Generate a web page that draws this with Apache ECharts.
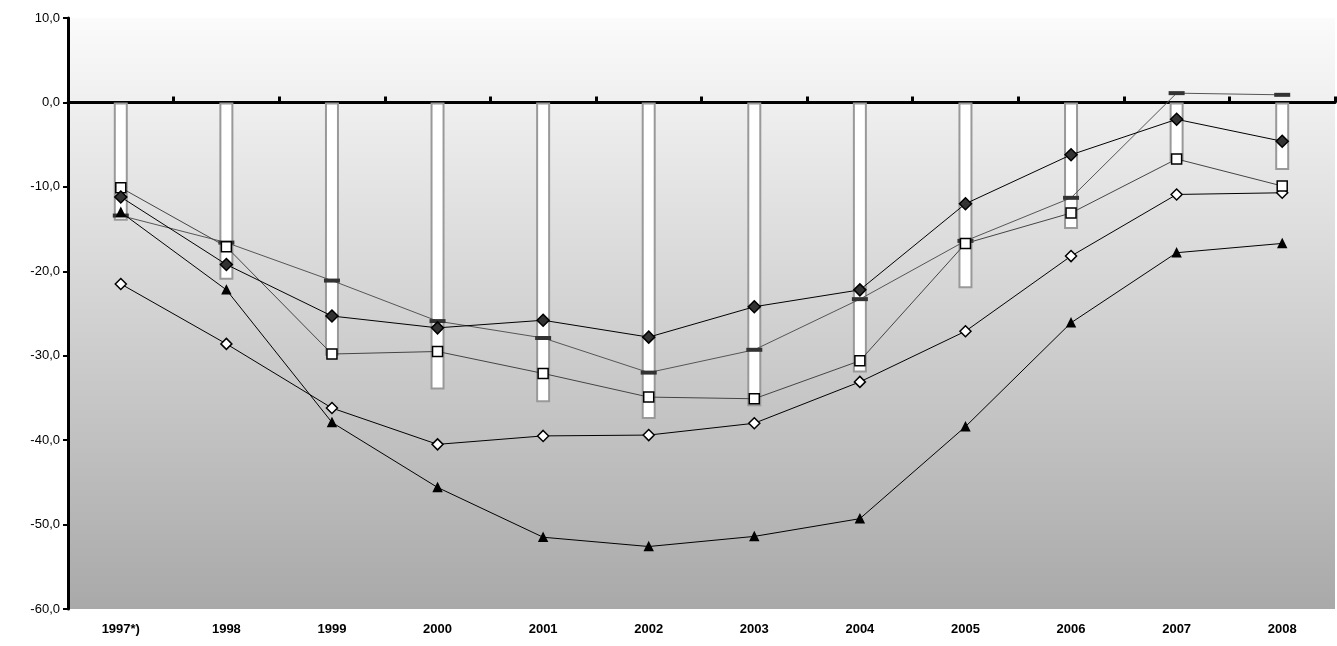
<!DOCTYPE html>
<html style="height:100%">
<head><meta charset="utf-8"></head>
<body style="height:100%;margin:0;background:#fff">
<div id="container" style="width:1337px;height:646px"></div>
<script src="https://cdn.jsdelivr.net/npm/echarts@6/dist/echarts.min.js"></script>
<script>
// data
var years = ['1997*)', '1998', '1999', '2000', '2001', '2002', '2003', '2004', '2005', '2006', '2007', '2008'];
var bars = [-14, -21, -30, -34, -35.5, -37.5, -36, -32, -22, -15, -7, -8];
var dashes = [-13.4, -16.6, -21.1, -25.9, -27.9, -32.0, -29.3, -23.3, -16.4, -11.3, 1.1, 0.9];
var filledDiamond = [-11.2, -19.2, -25.3, -26.7, -25.8, -27.8, -24.2, -22.2, -12.0, -6.2, -2.0, -4.6];
var openSquare = [-10.1, -17.1, -29.8, -29.5, -32.1, -34.9, -35.1, -30.6, -16.7, -13.1, -6.7, -9.9];
var openDiamond = [-21.5, -28.6, -36.2, -40.5, -39.5, -39.4, -38.0, -33.1, -27.1, -18.2, -10.9, -10.7];
var triangle = [-13.0, -22.2, -37.9, -45.6, -51.5, -52.6, -51.4, -49.3, -38.4, -26.1, -17.8, -16.7];

var myChart = echarts.init(document.getElementById('container'));

function line(name, data, symbol, size, fill, lineColor) {
  return {
    name: name, type: 'line', data: data, symbol: symbol, symbolSize: size,
    lineStyle: { color: lineColor, width: 1 },
    itemStyle: { color: fill, borderColor: '#000', borderWidth: 1.5 },
    z: 5
  };
}

var option = {
  animation: false,
  grid: {
    left: 68, right: 2, top: 18, bottom: 37,
    show: true, borderWidth: 0,
    backgroundColor: new echarts.graphic.LinearGradient(0, 0, 0, 1, [
      { offset: 0, color: '#fbfbfb' },
      { offset: 1, color: '#a9a9a9' }
    ])
  },
  xAxis: [{
    // the zero line with its small tick marks
    type: 'category', data: years,
    axisLine: { show: true, onZero: true, lineStyle: { color: '#000', width: 3 } },
    axisTick: { show: true, inside: true, length: 6, lineStyle: { color: '#000', width: 3 } },
    axisLabel: { show: false }
  }, {
    type: 'category', data: years, position: 'bottom',
    axisLine: { show: false, onZero: false }, axisTick: { show: false },
    axisLabel: { fontFamily: 'Arial', fontWeight: 'bold', fontSize: 13, color: '#000', margin: 14 }
  }],
  yAxis: {
    type: 'value', min: -60, max: 10, interval: 10,
    axisLine: { show: true, lineStyle: { color: '#000', width: 3 } },
    axisTick: { show: true, length: 5, lineStyle: { color: '#000', width: 2 } },
    splitLine: { show: false },
    axisLabel: { fontFamily: 'Arial', fontSize: 13, color: '#000',
      formatter: function (v) { return v.toFixed(1).replace('.', ','); } }
  },
  series: [
    {
      type: 'bar', data: bars, barWidth: 14,
      itemStyle: { color: '#fff', borderColor: '#999', borderWidth: 2 }
    },
    {
      type: 'line', data: dashes, symbol: 'rect', symbolSize: [16, 4],
      lineStyle: { color: '#555', width: 1 },
      itemStyle: { color: '#333' }, z: 4
    },
    line('open diamond', openDiamond, 'diamond', 11, '#fff', '#000'),
    line('triangle', triangle, 'triangle', 8, '#000', '#000'),
    line('open square', openSquare, 'rect', 10, '#fff', '#444'),
    line('filled diamond', filledDiamond, 'diamond', 12, '#333', '#000')
  ]
};
myChart.setOption(option);
</script>
</body>
</html>
